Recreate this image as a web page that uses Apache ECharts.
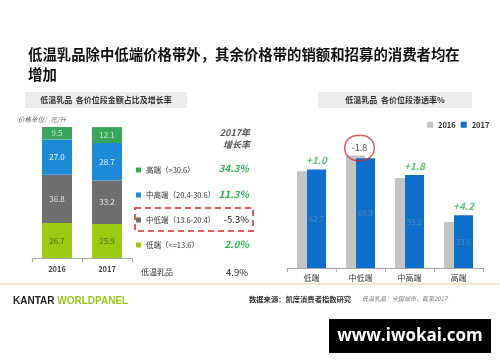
<!DOCTYPE html>
<html><head><meta charset="utf-8">
<script src="https://cdn.jsdelivr.net/npm/echarts@6/dist/echarts.min.js"></script>
<style>html,body{margin:0;padding:0;background:#fff}#c{width:500px;height:362px}</style>
</head><body><div id="c"></div>
<script>
// ---- Left chart data (share of sales value, %) ----
const years = ['2016', '2017'];
const segNames = ['高端（>30.6）', '中高端（20.4-30.6）', '中低端（13.6-20.4）', '低端（<=13.6）'];
const shareHigh = [9.5, 12.1];
const shareMidHigh = [27.0, 28.7];
const shareMidLow = [36.8, 33.2];
const shareLow = [26.7, 25.9];
const growth2017 = ['34.3%', '11.3%', '-5.3%', '2.0%'];
const totalName = '低温乳品';
const totalGrowth = '4.9%';

// ---- Right chart data (penetration, %) ----
const tiers = ['低端', '中低端', '中高端', '高端'];
const pen2016 = [61.7, 71.7, 57.4, 29.4];
const pen2017 = [62.7, 69.9, 59.2, 33.6];
const penChange = ['+1.0', '-1.8', '+1.8', '+4.2'];

const FONT = '"Noto Sans CJK SC", "Noto Sans", sans-serif';
const cGreen = '#3aa65c', cBlue = '#1e8bd8', cGrey = '#6f6f6f', cLime = '#9acb10';
const growthGreen = '#2fb34f';

const chart = echarts.init(document.getElementById('c'), null, {renderer: 'canvas'});

function segSeries(name, data, color, labelColor) {
  return {
    name: name, type: 'bar', stack: 'share', xAxisIndex: 0, yAxisIndex: 0,
    barWidth: 30, data: data,
    itemStyle: {color: color},
    label: {show: true, position: 'inside', color: labelColor, fontSize: 8, fontFamily: FONT,
      formatter: p => p.value.toFixed(1)}
  };
}

const scatterData = pen2017.map((v, i) => {
  const neg = penChange[i].charAt(0) === '-';
  if (neg) {
    return {value: Math.max(v, pen2016[i]), label: {
      color: '#222', fontStyle: 'normal', fontWeight: 'normal', fontSize: 9,
      borderColor: '#d42a2a', borderWidth: 1.4, borderRadius: 13, padding: [8, 7],
      distance: 0, offset: [-1, 5]
    }};
  }
  return {value: v};
});

const option = {
  backgroundColor: '#fff',
  animation: false,
  textStyle: {fontFamily: FONT},
  grid: [
    {left: 32, width: 100, top: 127, height: 131},
    {left: 287, width: 196, top: 111, height: 157}
  ],
  xAxis: [
    {gridIndex: 0, type: 'category', data: years,
      axisLine: {lineStyle: {color: '#aaa'}}, axisTick: {show: true, length: 4, lineStyle: {color: '#aaa'}},
      axisLabel: {color: '#444', fontSize: 7.5, fontWeight: 'bold', margin: 7, fontFamily: FONT}},
    {gridIndex: 1, type: 'category', data: tiers,
      axisLine: {lineStyle: {color: '#aaa'}}, axisTick: {show: true, length: 4, lineStyle: {color: '#aaa'}},
      axisLabel: {color: '#333', fontSize: 8, margin: 6, fontFamily: FONT}}
  ],
  yAxis: [
    {gridIndex: 0, type: 'value', min: 0, max: 100, show: false},
    {gridIndex: 1, type: 'value', min: 0, max: 100, show: false}
  ],
  legend: [
    {data: segNames, orient: 'vertical', left: 136, top: 165, itemWidth: 5, itemHeight: 5, itemGap: 15,
      icon: 'rect', padding: 0,
      textStyle: {fontSize: 7.5, color: '#333', fontFamily: FONT, lineHeight: 10}},
    {data: ['2016', '2017'], orient: 'horizontal', left: 427, top: 121, itemWidth: 6, itemHeight: 6, itemGap: 5,
      icon: 'rect', padding: 0,
      textStyle: {fontSize: 7.5, color: '#333', fontWeight: 'bold', fontFamily: FONT}}
  ],
  series: [
    segSeries(segNames[3], shareLow, cLime, '#55651e'),
    segSeries(segNames[2], shareMidLow, cGrey, '#e4e4e4'),
    segSeries(segNames[1], shareMidHigh, cBlue, '#e6f2ff'),
    segSeries(segNames[0], shareHigh, cGreen, '#bfe3c6'),
    {name: '2016', type: 'bar', xAxisIndex: 1, yAxisIndex: 1, data: pen2016,
      barWidth: 19, barGap: '-47%', itemStyle: {color: '#c4c4c4'}},
    {name: '2017', type: 'bar', xAxisIndex: 1, yAxisIndex: 1, data: pen2017,
      barWidth: 19, itemStyle: {color: '#0b6fcb'},
      label: {show: true, position: 'inside', color: '#5f86b5', fontSize: 8, formatter: p => p.value.toFixed(1)}},
    {name: 'change', type: 'scatter', xAxisIndex: 1, yAxisIndex: 1, symbolSize: 0, z: 5,
      data: scatterData, silent: true,
      label: {show: true, position: 'top', distance: 4, offset: [5, 0],
        color: growthGreen, fontSize: 10, fontWeight: 'bold', fontStyle: 'italic', fontFamily: FONT,
        formatter: p => penChange[p.dataIndex]}}
  ],
  graphic: []
};

const g = option.graphic;
// Title
g.push({type: 'text', left: 28, top: 45, style: {text: '低温乳品除中低端价格带外，其余价格带的销额和招募的消费者均在\n增加',
  font: 'bold 14.4px ' + FONT, fill: '#111', lineHeight: 20}});
// Header boxes
g.push({type: 'rect', shape: {x: 25, y: 92, width: 162, height: 16}, style: {fill: '#ececec'}});
g.push({type: 'text', x: 106, y: 100, style: {text: '低温乳品  各价位段金额占比及增长率', font: 'bold 8px ' + FONT,
  fill: '#333', textAlign: 'center', textVerticalAlign: 'middle'}});
g.push({type: 'rect', shape: {x: 318, y: 92, width: 154, height: 16}, style: {fill: '#ececec'}});
g.push({type: 'text', x: 395, y: 100, style: {text: '低温乳品  各价位段渗透率%', font: 'bold 8px ' + FONT,
  fill: '#333', textAlign: 'center', textVerticalAlign: 'middle'}});
// unit
g.push({type: 'text', x: 18, y: 120, style: {text: '价格单位：元/升', font: 'italic 6.5px ' + FONT,
  fill: '#666', textVerticalAlign: 'middle'}});
// growth header
g.push({type: 'text', x: 250, y: 139, style: {text: '2017年\n增长率', font: 'italic bold 9px ' + FONT,
  fill: '#555', textAlign: 'right', textVerticalAlign: 'middle', lineHeight: 12}});
const growthY = [168, 194, 219, 244];
growth2017.forEach((t, i) => {
  const neg = t.charAt(0) === '-';
  g.push({type: 'text', x: 249, y: growthY[i], style: {text: t,
    font: (neg ? 'normal 9.5px ' : 'italic bold 10px ') + FONT,
    fill: neg ? '#222' : growthGreen, textAlign: 'right', textVerticalAlign: 'middle'}});
});
g.push({type: 'text', x: 141, y: 272, style: {text: totalName, font: '8px ' + FONT, fill: '#333', textVerticalAlign: 'middle'}});
g.push({type: 'text', x: 248, y: 272, style: {text: totalGrowth, font: '9.5px ' + FONT, fill: '#222',
  textAlign: 'right', textVerticalAlign: 'middle'}});
// red dashed box
g.push({type: 'rect', shape: {x: 135, y: 208, width: 118, height: 23},
  style: {fill: 'none', stroke: '#e02424', lineWidth: 1.5, lineDash: [6, 4]}});
// footer line
g.push({type: 'line', shape: {x1: 0, y1: 284, x2: 500, y2: 284}, style: {stroke: '#e3d29f', lineWidth: 1}});
g.push({type: 'text', x: 13, y: 301, style: {
  text: '{k|KANTAR }{w|WORLDPANEL}', textVerticalAlign: 'middle',
  rich: {k: {font: 'bold 10px "Liberation Sans", Arial, sans-serif', fill: '#222'},
         w: {font: 'bold 10px "Liberation Sans", Arial, sans-serif', fill: '#9bc41c'}}}});
g.push({type: 'text', x: 249, y: 299, style: {text: '数据来源：凯度消费者指数研究', font: 'bold 7.3px ' + FONT,
  fill: '#333', textVerticalAlign: 'middle'}});
g.push({type: 'text', x: 362, y: 299, style: {text: '低温乳品：全国城市，截至2017', font: 'italic 6px ' + FONT,
  fill: '#777', textVerticalAlign: 'middle'}});
// watermark
g.push({type: 'rect', shape: {x: 329, y: 319, width: 162, height: 34}, style: {fill: '#000'}});
g.push({type: 'text', x: 410, y: 336, style: {text: 'www.iwokai.com', font: 'bold 17px "Open Sans", "DejaVu Sans", sans-serif',
  fill: '#fff', textAlign: 'center', textVerticalAlign: 'middle'}});

chart.setOption(option);
</script>
</body></html>
